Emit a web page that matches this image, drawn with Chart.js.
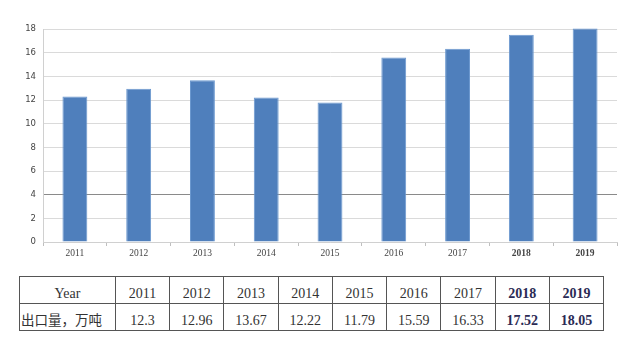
<!DOCTYPE html>
<html>
<head>
<meta charset="utf-8">
<script src="https://cdn.jsdelivr.net/npm/chart.js@4/dist/chart.umd.min.js"></script>
<style>
    html, body { margin: 0; padding: 0; background: #fff; }
    #wrap { position: relative; width: 632px; height: 346px; overflow: hidden; }
    #chartBox { position: absolute; left: 0; top: 0; width: 632px; height: 270px; }
    #dataTable {
        position: absolute; left: 19px; top: 276px; width: 585px;
        border-collapse: collapse; table-layout: fixed;
        font-family: "Liberation Serif", "Noto Sans CJK SC", serif; font-size: 14px; color: #333;
    }
    #dataTable td {
        border: 1px solid #555; height: 25px; padding: 0 0 1px 0;
        text-align: center; vertical-align: bottom; white-space: nowrap; overflow: hidden;
    }
    #dataTable td.head { width: 95px; }
    #dataTable td.cn { font-family: "Noto Sans CJK SC", sans-serif; font-size: 13.5px; text-align: left; padding-left: 1px; }
    #dataTable td.hl { font-weight: bold; color: #2b2b55; }
</style>
</head>
<body>
<div id="wrap">
    <div id="chartBox"><canvas id="exportChart"></canvas></div>
    <table id="dataTable">
        <tr id="yearRow"></tr>
        <tr id="valueRow"></tr>
    </table>
</div>
<script>
// 年份与出口量（万吨）
const years = ['2011', '2012', '2013', '2014', '2015', '2016', '2017', '2018', '2019'];
const exportValues = [12.3, 12.96, 13.67, 12.22, 11.79, 15.59, 16.33, 17.52, 18.05];
const tableValueText = ['12.3', '12.96', '13.67', '12.22', '11.79', '15.59', '16.33', '17.52', '18.05'];
const boldYears = ['2018', '2019'];
const yTicks = [0, 2, 4, 6, 8, 10, 12, 14, 16, 18];

// 表格
const yearRow = document.getElementById('yearRow');
const valueRow = document.getElementById('valueRow');
yearRow.innerHTML = '<td class="head">Year</td>';
valueRow.innerHTML = '<td class="head cn">出口量，万吨</td>';
years.forEach((y, i) => {
    const hl = boldYears.includes(y) ? ' class="hl"' : '';
    yearRow.innerHTML += `<td${hl}>${y}</td>`;
    valueRow.innerHTML += `<td${hl}>${tableValueText[i]}</td>`;
});

// 柱状图
const ctx = document.getElementById('exportChart').getContext('2d');
new Chart(ctx, {
    type: 'bar',
    data: {
        labels: years,
        datasets: [{
            data: exportValues,
            backgroundColor: '#4f7fbc',
            borderColor: '#6b98cf',
            borderWidth: 1,
            categoryPercentage: 1,
            barPercentage: 0.39,
            clip: false
        }]
    },
    options: {
        responsive: true,
        maintainAspectRatio: false,
        animation: false,
        layout: { padding: { top: 29, right: 15, left: 0, bottom: 0 } },
        plugins: { legend: { display: false }, tooltip: { enabled: false } },
        scales: {
            x: {
                grid: { drawOnChartArea: false, drawTicks: true, tickLength: 4, color: '#bfbfbf' },
                border: { color: '#d0d0d0' },
                ticks: {
                    color: '#444',
                    padding: 2,
                    font: c => ({ family: 'Liberation Serif', size: 9.5, weight: boldYears.includes(years[c.index]) ? 'bold' : 'normal' })
                },
                afterFit: s => { s.height = 28; }
            },
            y: {
                min: 0,
                max: 18,
                afterBuildTicks: s => { s.ticks = yTicks.map(v => ({ value: v })); },
                grid: {
                    drawTicks: false,
                    color: c => (c.tick && c.tick.value === 4 ? '#8a8a8a' : '#dadada')
                },
                border: { color: '#d0d0d0' },
                ticks: { color: '#444', padding: 7, font: { family: 'DejaVu Sans', size: 8.5 } },
                afterFit: s => { s.width = 43; }
            }
        }
    }
});
</script>
</body>
</html>
